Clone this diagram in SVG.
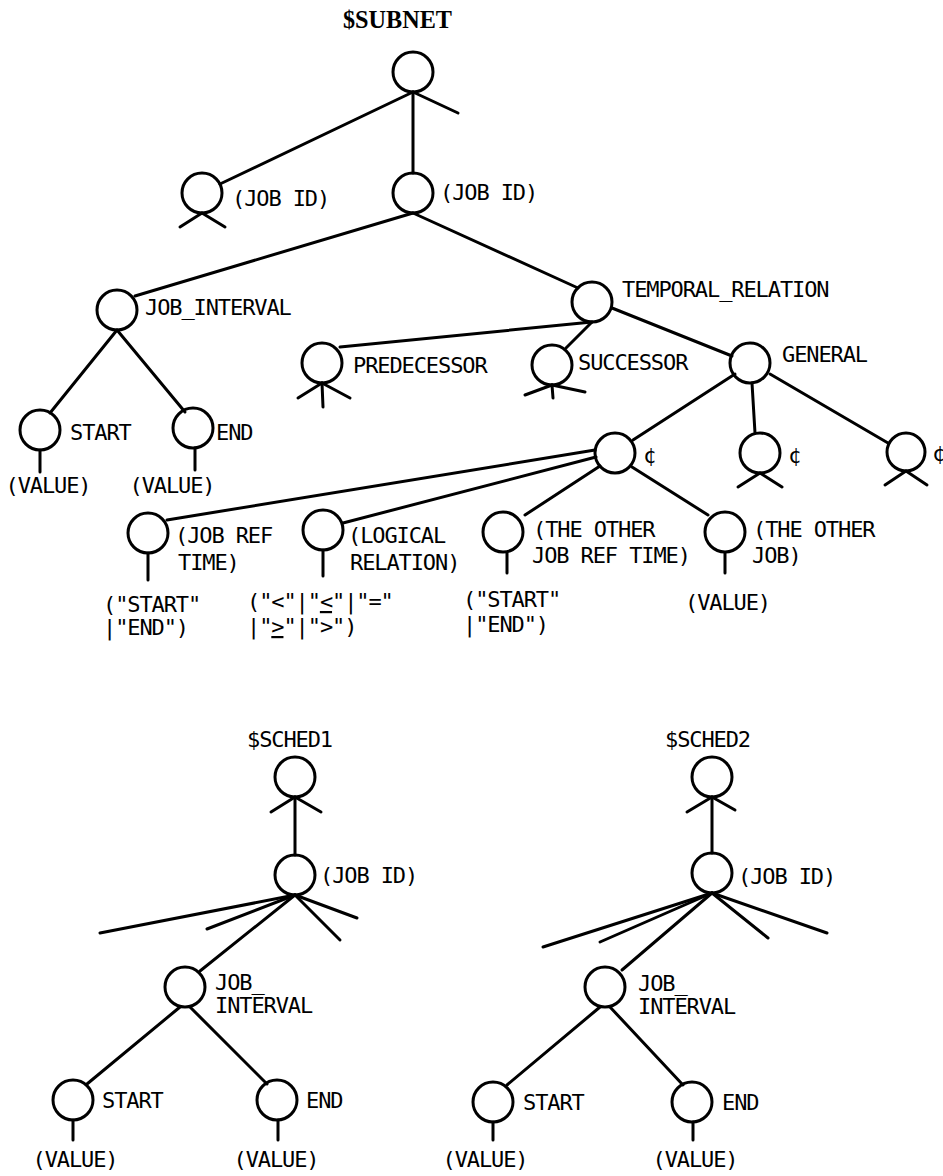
<svg xmlns="http://www.w3.org/2000/svg" width="943" height="1176" viewBox="0 0 943 1176">
<style>
  .bg{fill:#fff}
  circle{fill:none;stroke:#000;stroke-width:3}
  line{stroke:#000;stroke-width:3;stroke-linecap:round}
  text{font-family:"DejaVu Sans Mono","Liberation Mono",monospace;font-size:22px;letter-spacing:-1.1px;fill:#000}
  .title{font-family:"Liberation Serif","DejaVu Serif",serif;font-weight:bold;font-size:26px;letter-spacing:0}
  .m{text-anchor:middle}
  .u{text-decoration:underline}
</style>
<rect class="bg" x="0" y="0" width="943" height="1176"/>

<!-- ===== connectors ===== -->
<g id="connectors">
  <!-- top tree -->
  <line x1="413" y1="92" x2="220" y2="184"/>
  <line x1="413" y1="92" x2="413" y2="173"/>
  <line x1="413" y1="213" x2="135" y2="296"/>
  <line x1="413" y1="213" x2="578" y2="288"/>
  <line x1="117" y1="330" x2="50" y2="413"/>
  <line x1="117" y1="330" x2="185" y2="412"/>
  <line x1="592" y1="322" x2="340" y2="347"/>
  <line x1="592" y1="322" x2="566" y2="348"/>
  <line x1="612" y1="308" x2="732" y2="356"/>
  <line x1="735" y1="374" x2="633" y2="440"/>
  <line x1="752" y1="383" x2="755" y2="433"/>
  <line x1="770" y1="374" x2="888" y2="443"/>
  <line x1="595" y1="450" x2="167" y2="520"/>
  <line x1="596" y1="457" x2="343" y2="523"/>
  <line x1="600" y1="466" x2="525" y2="515"/>
  <line x1="632" y1="467" x2="708" y2="515"/>
  <!-- SCHED1 -->
  <line x1="295" y1="797" x2="295" y2="855"/>
  <line x1="295" y1="895" x2="200" y2="971"/>
  <line x1="180" y1="1007" x2="87" y2="1084"/>
  <line x1="190" y1="1007" x2="267" y2="1084"/>
  <!-- SCHED2 -->
  <line x1="712" y1="797" x2="712" y2="853"/>
  <line x1="712" y1="893" x2="622" y2="970"/>
  <line x1="600" y1="1007" x2="507" y2="1085"/>
  <line x1="610" y1="1007" x2="683" y2="1085"/>
</g>

<!-- ===== top tree nodes ===== -->
<g id="subnet-root">
  <text class="title" x="343" y="28" textLength="109" lengthAdjust="spacingAndGlyphs">$SUBNET</text>
  <circle cx="413" cy="72" r="20"/>
  <line x1="413" y1="92" x2="458" y2="113"/>
</g>
<g id="jobid-left">
  <circle cx="202" cy="193" r="20"/>
  <line x1="202" y1="213" x2="180" y2="227"/>
  <line x1="202" y1="213" x2="225" y2="227"/>
  <text x="232" y="206">(JOB ID)</text>
</g>
<g id="jobid-right">
  <circle cx="413" cy="193" r="20"/>
  <text x="440" y="200">(JOB ID)</text>
</g>
<g id="job-interval">
  <circle cx="117" cy="310" r="20"/>
  <text x="145" y="315">JOB_INTERVAL</text>
</g>
<g id="start">
  <circle cx="40" cy="430" r="20"/>
  <line x1="40" y1="450" x2="40" y2="472"/>
  <text x="70" y="440">START</text>
  <text class="m" x="48" y="493">(VALUE)</text>
</g>
<g id="end">
  <circle cx="193" cy="428" r="20"/>
  <line x1="195" y1="448" x2="195" y2="470"/>
  <text x="216" y="440">END</text>
  <text class="m" x="172" y="493">(VALUE)</text>
</g>
<g id="temporal-relation">
  <circle cx="592" cy="302" r="20"/>
  <text x="622" y="297">TEMPORAL_RELATION</text>
</g>
<g id="predecessor">
  <circle cx="322" cy="363" r="20"/>
  <line x1="322" y1="383" x2="298" y2="398"/>
  <line x1="322" y1="383" x2="350" y2="398"/>
  <line x1="322" y1="383" x2="323" y2="407"/>
  <text x="353" y="373">PREDECESSOR</text>
</g>
<g id="successor">
  <circle cx="552" cy="365" r="20"/>
  <line x1="552" y1="385" x2="525" y2="395"/>
  <line x1="552" y1="385" x2="585" y2="392"/>
  <line x1="552" y1="385" x2="553" y2="398"/>
  <text x="578" y="370">SUCCESSOR</text>
</g>
<g id="general">
  <circle cx="750" cy="363" r="20"/>
  <text x="782" y="362">GENERAL</text>
</g>
<g id="cent1">
  <circle cx="615" cy="453" r="20"/>
  <text x="643" y="463">¢</text>
</g>
<g id="cent2">
  <circle cx="760" cy="453" r="20"/>
  <line x1="760" y1="473" x2="738" y2="487"/>
  <line x1="760" y1="473" x2="782" y2="487"/>
  <text x="788" y="463">¢</text>
</g>
<g id="cent3">
  <circle cx="906" cy="452" r="19"/>
  <line x1="906" y1="471" x2="885" y2="485"/>
  <line x1="906" y1="471" x2="927" y2="485"/>
  <text x="932" y="461">¢</text>
</g>
<g id="job-ref-time">
  <circle cx="148" cy="533" r="20"/>
  <line x1="148" y1="553" x2="148" y2="580"/>
  <text x="175" y="543">(JOB REF</text>
  <text x="178" y="570">TIME)</text>
  <text x="103" y="612">("START"</text>
  <text x="103" y="635">|"END")</text>
</g>
<g id="logical-relation">
  <circle cx="323" cy="530" r="20"/>
  <line x1="323" y1="550" x2="323" y2="576"/>
  <text x="348" y="543">(LOGICAL</text>
  <text x="350" y="570">RELATION)</text>
  <text x="247" y="609">("&lt;"|"<tspan class="u">&lt;</tspan>"|"="</text>
  <text x="247" y="634">|"<tspan class="u">&gt;</tspan>"|"&gt;")</text>
</g>
<g id="other-job-ref-time">
  <circle cx="503" cy="532" r="20"/>
  <line x1="507" y1="553" x2="507" y2="573"/>
  <text x="533" y="537">(THE OTHER</text>
  <text x="532" y="563">JOB REF TIME)</text>
  <text x="463" y="607">("START"</text>
  <text x="463" y="632">|"END")</text>
</g>
<g id="other-job">
  <circle cx="725" cy="532" r="20"/>
  <line x1="725" y1="553" x2="725" y2="573"/>
  <text x="753" y="537">(THE OTHER</text>
  <text x="752" y="563">JOB)</text>
  <text x="685" y="610">(VALUE)</text>
</g>

<!-- ===== $SCHED1 ===== -->
<g id="sched1-root">
  <text x="247" y="747">$SCHED1</text>
  <circle cx="295" cy="777" r="20"/>
  <line x1="295" y1="797" x2="271" y2="812"/>
  <line x1="295" y1="797" x2="321" y2="812"/>
</g>
<g id="sched1-jobid">
  <circle cx="295" cy="875" r="20"/>
  <text x="320" y="883">(JOB ID)</text>
  <line x1="295" y1="895" x2="100" y2="933"/>
  <line x1="295" y1="895" x2="207" y2="929"/>
  <line x1="295" y1="895" x2="357" y2="918"/>
  <line x1="295" y1="895" x2="340" y2="940"/>
</g>
<g id="sched1-interval">
  <circle cx="185" cy="987" r="20"/>
  <text x="215" y="990">JOB_</text>
  <text x="215" y="1013">INTERVAL</text>
</g>
<g id="sched1-start">
  <circle cx="73" cy="1100" r="20"/>
  <line x1="73" y1="1120" x2="73" y2="1140"/>
  <text x="102" y="1108">START</text>
  <text class="m" x="75" y="1167">(VALUE)</text>
</g>
<g id="sched1-end">
  <circle cx="277" cy="1100" r="20"/>
  <line x1="278" y1="1120" x2="278" y2="1140"/>
  <text x="306" y="1108">END</text>
  <text class="m" x="276" y="1167">(VALUE)</text>
</g>

<!-- ===== $SCHED2 ===== -->
<g id="sched2-root">
  <text x="665" y="747">$SCHED2</text>
  <circle cx="712" cy="777" r="20"/>
  <line x1="712" y1="797" x2="687" y2="812"/>
  <line x1="712" y1="797" x2="735" y2="810"/>
</g>
<g id="sched2-jobid">
  <circle cx="712" cy="873" r="20"/>
  <text x="738" y="884">(JOB ID)</text>
  <line x1="712" y1="893" x2="543" y2="947"/>
  <line x1="712" y1="893" x2="600" y2="942"/>
  <line x1="712" y1="893" x2="768" y2="938"/>
  <line x1="712" y1="893" x2="827" y2="933"/>
</g>
<g id="sched2-interval">
  <circle cx="605" cy="987" r="20"/>
  <text x="638" y="991">JOB_</text>
  <text x="638" y="1014">INTERVAL</text>
</g>
<g id="sched2-start">
  <circle cx="493" cy="1102" r="20"/>
  <line x1="493" y1="1122" x2="493" y2="1140"/>
  <text x="523" y="1110">START</text>
  <text class="m" x="485" y="1167">(VALUE)</text>
</g>
<g id="sched2-end">
  <circle cx="692" cy="1102" r="20"/>
  <line x1="693" y1="1122" x2="693" y2="1140"/>
  <text x="722" y="1110">END</text>
  <text class="m" x="695" y="1167">(VALUE)</text>
</g>
</svg>
